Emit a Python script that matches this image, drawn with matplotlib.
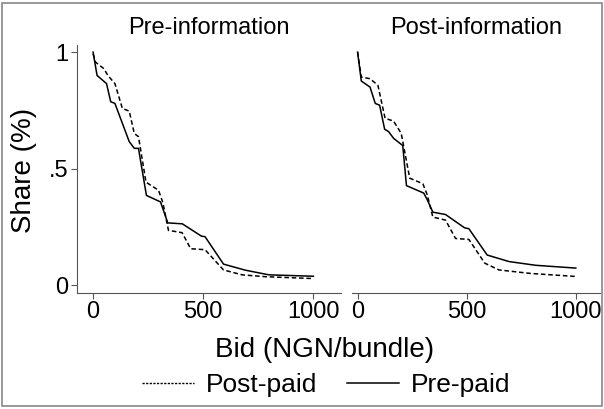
import matplotlib
matplotlib.use("Agg")
import matplotlib.pyplot as plt
from matplotlib.lines import Line2D
from matplotlib.patches import Rectangle

plt.rcParams['font.family'] = ['Liberation Sans', 'DejaVu Sans']

panels = ["Pre-information", "Post-information"]

# Pre-information panel
pre_pre_x = [0, 18, 61, 80, 99, 164, 187, 206, 242, 306, 339, 405, 492, 508, 592, 691, 798, 1000]
pre_pre_y = [1.0, 0.90, 0.865, 0.787, 0.78, 0.616, 0.587, 0.587, 0.385, 0.357, 0.267, 0.263,
             0.21, 0.208, 0.09, 0.064, 0.044, 0.038]
pre_post_x = [0, 11, 49, 67, 99, 133, 164, 187, 206, 240, 297, 317, 342, 404, 443, 508, 592,
              676, 783, 1000]
pre_post_y = [0.993, 0.957, 0.929, 0.90, 0.865, 0.758, 0.747, 0.651, 0.637, 0.442, 0.407,
              0.353, 0.235, 0.225, 0.156, 0.152, 0.065, 0.044, 0.036, 0.028]

# Post-information panel
post_pre_x = [0, 17, 57, 81, 101, 124, 142, 165, 207, 224, 303, 319, 345, 403, 490, 510, 594,
              694, 816, 1000]
post_pre_y = [1.0, 0.876, 0.85, 0.78, 0.772, 0.669, 0.659, 0.63, 0.599, 0.427, 0.395, 0.367,
              0.313, 0.303, 0.246, 0.242, 0.129, 0.101, 0.085, 0.073]
post_post_x = [0, 17, 57, 93, 126, 165, 200, 239, 299, 319, 345, 403, 449, 510, 583, 648, 793,
               1000]
post_post_y = [1.0, 0.893, 0.886, 0.858, 0.716, 0.704, 0.651, 0.459, 0.435, 0.388, 0.292,
               0.279, 0.2, 0.196, 0.094, 0.065, 0.05, 0.037]

xticks = [0, 500, 1000]
yticks = [0, 0.5, 1]
ytick_labels = ["0", ".5", "1"]

dash = (0, (3, 1.8))

fig = plt.figure(figsize=(6.04, 4.09), dpi=100)
fig.patches.append(Rectangle((0.004, 0.008), 0.992, 0.985, transform=fig.transFigure,
                             fill=False, edgecolor="#888888", linewidth=1.2))

ax1 = fig.add_axes([0.1275, 0.2836, 0.437, 0.606])
ax2 = fig.add_axes([0.583, 0.2836, 0.41, 0.606])

data = [
    (ax1, pre_post_x, pre_post_y, pre_pre_x, pre_pre_y, (-73, 1125)),
    (ax2, post_post_x, post_post_y, post_pre_x, post_pre_y, (-25, 1110)),
]
for (ax, px, py, sx, sy, xl), title in zip(data, panels):
    ax.plot(px, py, color="black", linestyle=dash, linewidth=1.1)
    ax.plot(sx, sy, color="black", linestyle="-", linewidth=1.1)
    ax.set_xlim(*xl)
    ax.set_ylim(-0.034, 1.03)
    ax.set_xticks(xticks)
    ax.set_xticklabels([str(t) for t in xticks], fontsize=17)
    ax.tick_params(axis="both", direction="out", length=4, width=0.8, pad=2,
                   color="#555555")
    for s in ["top", "right"]:
        ax.spines[s].set_visible(False)
    ax.spines["bottom"].set_color("#555555")
    ax.spines["left"].set_color("#555555")
    ax.set_title(title, fontsize=17, pad=8)

ax1.set_yticks(yticks)
ax1.set_yticklabels(ytick_labels, fontsize=17)
ax2.spines["left"].set_visible(False)
ax2.set_yticks([])

fig.text(0.040, 1 - 170 / 409, "Share (%)", rotation=90, ha="center", va="center",
         fontsize=20)
fig.text(0.537, 1 - 350 / 409, "Bid (NGN/bundle)", ha="center", va="center", fontsize=20)

handles = [Line2D([0], [0], color="black", linestyle=(0, (1.6, 1.0)), linewidth=1.0),
           Line2D([0], [0], color="black", linestyle="-", linewidth=1.1)]
fig.legend(handles, ["Post-paid", "Pre-paid"], loc="center", bbox_to_anchor=(0.54, 0.058),
           ncol=2, frameon=False, fontsize=19, handlelength=2.0, columnspacing=1.1,
           handletextpad=0.45, borderpad=0, borderaxespad=0)

fig.savefig("out.png", dpi=100)
